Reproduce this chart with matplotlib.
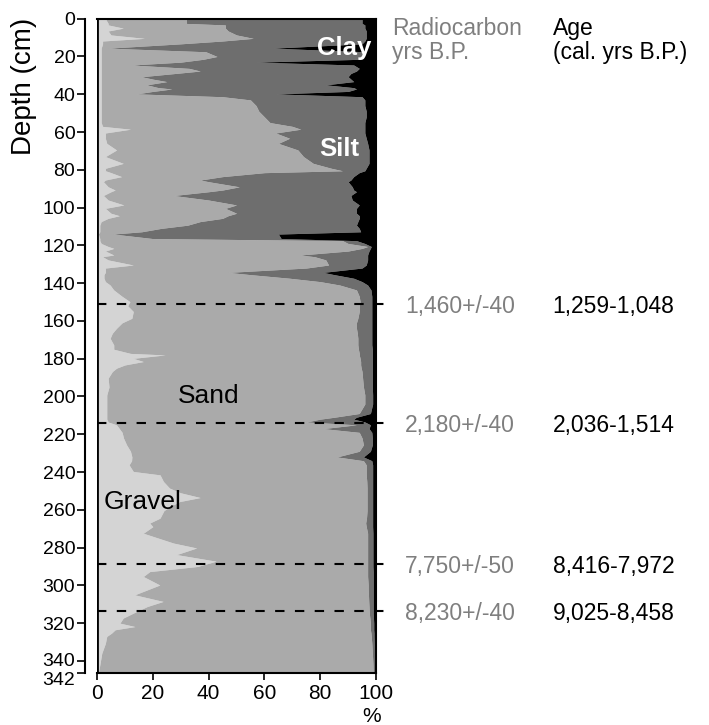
import numpy as np
import matplotlib
matplotlib.use('Agg')
import matplotlib.pyplot as plt
import matplotlib.transforms as mtransforms

# grain size fractions (%) down core
depth = [0, 2.5, 3.3, 5, 6.5, 8.6, 10.4, 11.8, 13.3, 15.6, 17.5, 20, 21.5, 23, 24.5, 26.3, 27.7, 29, 30.7, 32,
         33.3, 35, 36.5, 37.2, 38.5, 39.8, 41.3, 43, 46, 49, 52, 55, 57, 58.5, 60.5, 63.3, 66, 69.5, 73, 76.6,
         79.2, 80.5, 81.5, 83.6, 85.4, 86.3, 89, 90.7, 91.6, 93.6, 96, 98.6, 100.4, 103, 104.3, 105.7, 107.4, 109.3, 111, 112.8,
         114, 116.4, 117.5, 119, 120.6, 121.6, 123, 125.1, 126, 127.7, 130.4, 132, 134.3, 135.5, 137.4, 139.2, 141, 143.6, 147, 149.8,
         152, 155, 158.6, 161, 163.9, 166.5, 169.2, 172.7, 175, 177.2, 178, 179.8, 181.5, 183.3, 185, 186.8, 190.3, 195, 199.2, 204,
         209, 211, 212, 213.5, 215, 217, 219, 222, 225.6, 229, 232, 234, 236.2, 239.7, 241.5, 245, 248.5, 251, 253.5, 255.6,
         258, 260.4, 264.4, 267, 268.9, 272.4, 275, 277.6, 280.2, 283.7, 287.2, 290, 292.7, 295.3, 299.8, 302.4, 305, 308.5, 311.2, 314.7,
         317.3, 320, 321.8, 323.5, 325.3, 327, 330.7, 336, 341.3, 346.4]
gravel = [3, 4, 4, 9.4, 4, 5, 17, 2, 2, 1.5, 1.5, 1.5, 1.5, 1.5, 1.5, 1.5, 1.5, 1.5, 1.5, 1.5,
          1.5, 1.5, 1.5, 1.5, 1.5, 1.5, 1.5, 1.5, 1.5, 1.5, 1.5, 1.5, 2, 12, 3, 3, 3.5, 7, 3, 9.4,
          3, 3, 5, 8.8, 3, 2.3, 4, 6.5, 5, 2.3, 4, 9.6, 3, 5, 8, 4, 1.5, 1, 1, 1,
          0.5, 1, 1, 1.5, 4, 6, 3, 6, 2, 4, 13, 3, 3, 2.5, 2.5, 3, 4.7, 6, 9, 11.8,
          11, 13, 12.5, 9, 7, 5.5, 4.7, 6, 6, 12, 24.4, 13, 16.6, 10, 7, 5.5, 4, 4.3, 3.5, 3.5,
          3.5, 3.5, 3.5, 4, 7, 8, 9, 9.5, 10.6, 12, 12.5, 12.4, 11.5, 13, 22.6, 23.8, 26, 30, 37, 29.7,
          26.5, 24, 22.6, 18.9, 20, 16.6, 22, 27.4, 35.7, 28.5, 42.7, 36, 18.9, 16.6, 22.5, 18, 13.5, 23.7, 18, 13,
          9.4, 8.2, 13.6, 6.5, 5.2, 3.5, 3, 1.7, 1.1, 0.5]
sand = [29, 28, 42, 36.6, 43, 45, 39, 43, 28, 2.5, 37.5, 41.5, 36.5, 28.5, 10.9, 31.5, 35.5, 26.5, 14.5, 18.5,
        23.5, 16.3, 20.5, 25.3, 18.5, 12.7, 43.5, 53.5, 55.5, 56.5, 58.5, 60.5, 68, 61, 61, 66, 61.5, 65, 71, 68.1,
        81, 85, 55, 36.2, 34, 37.7, 47, 38.5, 35, 25.1, 36, 40.4, 43, 45, 39, 41, 35.5, 31.5, 22, 15,
        5.3, 19, 87, 88.5, 93, 89, 87, 66.8, 76, 78, 70, 72, 44, 52.5, 66.5, 77, 82.3, 87, 85, 82.5,
        83, 81, 81, 84, 86, 87.8, 88.8, 87.5, 87.7, 82, 69.6, 81.3, 77.9, 84.5, 87.7, 89.5, 91.2, 91.2, 92.5, 92.5,
        90.5, 81.5, 76.5, 71, 86, 73, 85, 85.5, 84.9, 82, 73.5, 83.1, 85, 83.5, 73.9, 72.9, 70.8, 66.8, 59.8, 67.1,
        70.3, 72.8, 74, 77.4, 76.5, 80.4, 75, 69.6, 61.3, 68.5, 54.3, 61, 78.1, 80.4, 74.7, 79.2, 83.8, 73.7, 79.5, 84.6,
        88.4, 89.8, 84.4, 91.5, 93, 94.8, 95.5, 97, 97.8, 98.5]
silt = [63, 63, 50, 50, 49.5, 46.5, 40.5, 51, 65, 59, 57, 52, 56, 27, 79.6, 61, 56, 63, 74, 71,
        67, 64.2, 70, 66.2, 70, 49.8, 50, 41, 39, 38.5, 36.5, 34, 26, 23, 32, 27.5, 32, 25.5, 23.5, 20,
        12.5, 8, 34, 47, 54, 50, 40.5, 47, 53, 63.6, 51.5, 44, 47, 43, 47, 49, 56.5, 60.5, 71, 78.5,
        59.2, 46, 5, 6, 1.3, 3, 7.5, 24.2, 19, 15, 13.5, 20, 34, 30, 23, 15, 10, 5.2, 4.5, 4.2,
        4.5, 4.5, 5, 5.5, 5.5, 5.2, 5, 5, 5, 4.7, 4.7, 4.4, 4.2, 4.2, 4, 3.7, 3.5, 3.2, 2.8, 2.8,
        4, 8, 12, 21, 5, 16.5, 4.5, 3.7, 3.2, 4, 9.5, 3, 2.3, 2.3, 2.3, 2.1, 2, 2, 2, 2,
        2, 2, 2.2, 2.5, 2.3, 1.9, 1.9, 1.9, 1.9, 1.9, 1.9, 1.9, 2, 2, 1.8, 1.8, 1.7, 1.6, 1.5, 1.4,
        1.3, 1.2, 1.2, 1.2, 1.1, 1, 0.9, 0.8, 0.6, 0.6]
clay = [5, 5, 4, 4, 3.5, 3.5, 3.5, 4, 5, 37, 4, 5, 6, 43, 8, 6, 7, 9, 10, 9,
        8, 18, 8, 7, 10, 36, 5, 4, 4, 3.5, 3.5, 4, 4, 4, 4, 3.5, 3, 2.5, 2.5, 2.5,
        3.5, 4, 6, 8, 9, 10, 8.5, 8, 7, 9, 8.5, 6, 7, 7, 6, 6, 6.5, 7, 6, 5.5,
        35, 34, 7, 4, 1.7, 2, 2.5, 3, 3, 3, 3.5, 5, 19, 15, 8, 5, 3, 1.8, 1.5, 1.5,
        1.5, 1.5, 1.5, 1.5, 1.5, 1.5, 1.5, 1.5, 1.3, 1.3, 1.3, 1.3, 1.3, 1.3, 1.3, 1.3, 1.3, 1.3, 1.2, 1.2,
        2, 7, 8, 4, 2, 2.5, 1.5, 1.3, 1.3, 2, 4.5, 1.5, 1.2, 1.2, 1.2, 1.2, 1.2, 1.2, 1.2, 1.2,
        1.2, 1.2, 1.2, 1.2, 1.2, 1.1, 1.1, 1.1, 1.1, 1.1, 1.1, 1.1, 1, 1, 1, 1, 1, 1, 1, 1,
        0.9, 0.8, 0.8, 0.8, 0.7, 0.7, 0.6, 0.5, 0.5, 0.4]

fractions = ['Gravel', 'Sand', 'Silt', 'Clay']
colors = ['#d4d4d4', '#aaaaaa', '#6e6e6e', 'black']

# radiocarbon dates
date_depth = [151.2, 214.2, 288.7, 313.5]
radiocarbon = ['1,460+/-40', '2,180+/-40', '7,750+/-50', '8,230+/-40']
cal_age = ['1,259-1,048', '2,036-1,514', '8,416-7,972', '9,025-8,458']

yticks = [0, 20, 40, 60, 80, 100, 120, 140, 160, 180, 200, 220, 240, 260, 280, 300, 320, 340, 346.4]
yticklabels = ['0', '20', '40', '60', '80', '100', '120', '140', '160', '180', '200', '220', '240',
               '260', '280', '300', '320', '340', '342']
xticks = [0, 20, 40, 60, 80, 100]

plt.rcParams['font.family'] = 'Liberation Sans'
plt.rcParams['axes.linewidth'] = 1.5

fig = plt.figure(figsize=(7.09, 7.25), dpi=100)
ax = fig.add_axes([0.1368, 0.0717, 0.3935, 0.9025])

d = np.array(depth)
layers = np.array([gravel, sand, silt, clay])
cum = np.vstack([np.zeros(len(d)), np.cumsum(layers, axis=0)])
for i in range(len(fractions)):
    ax.fill_betweenx(d, cum[i], cum[i+1], color=colors[i], lw=0)

ax.set_xlim(0, 100)
ax.set_ylim(346.4, 0)
ax.axvline(0, color='k', lw=2)
ax.spines['left'].set_position(('outward', 8.6))
ax.set_yticks(yticks)
ax.set_yticklabels(yticklabels)
ax.set_xticks(xticks)
ax.tick_params(axis='y', direction='out', length=6, width=1.2, labelsize=14, pad=1)
ax.tick_params(axis='x', direction='out', length=5, width=1.2, labelsize=15, pad=3)
# bottom label sits a little below the axis end
lab = ax.get_yticklabels()[-1]
lab.set_transform(lab.get_transform() + mtransforms.ScaledTranslation(0, -5/100., fig.dpi_scale_trans))
lab = ax.get_yticklabels()[-2]
lab.set_transform(lab.get_transform() + mtransforms.ScaledTranslation(0, 1/100., fig.dpi_scale_trans))

for dd, rc, ag in zip(date_depth, radiocarbon, cal_age):
    ax.plot([0, 105.7], [dd, dd], color='k', ls='--', dashes=(4.5, 5), lw=1.5, clip_on=False)
    ax.text(110.4, dd, rc, color='#7f7f7f', fontsize=16.5, ha='left', va='center_baseline')
    ax.text(163.3, dd, ag, color='k', fontsize=16.5, ha='left', va='center_baseline')

ax.text(88.5, 15.5, 'Clay', color='white', fontsize=18.5, fontweight='bold', ha='center', va='center')
ax.text(86.7, 69, 'Silt', color='white', fontsize=18.5, fontweight='bold', ha='center', va='center')
ax.text(40.1, 199.7, 'Sand', color='k', fontsize=19, ha='center', va='center')
ax.text(16.3, 255.9, 'Gravel', color='k', fontsize=19, ha='center', va='center')

fig.text(391.7/709, 1-35/725, 'Radiocarbon', color='#7f7f7f', fontsize=16.5, va='baseline')
fig.text(391.7/709, 1-58.5/725, 'yrs B.P.', color='#7f7f7f', fontsize=16.5, va='baseline')
fig.text(552.7/709, 1-35/725, 'Age', color='k', fontsize=16.5, va='baseline')
fig.text(552.7/709, 1-58.5/725, '(cal. yrs B.P.)', color='k', fontsize=16.5, va='baseline')

fig.text(24/709, 1-86.7/725, 'Depth (cm)', fontsize=20, rotation=90, ha='center', va='center')
fig.text(372/709, 1-716/725, '%', fontsize=15, ha='center', va='center')

plt.savefig('out.png', dpi=100)
